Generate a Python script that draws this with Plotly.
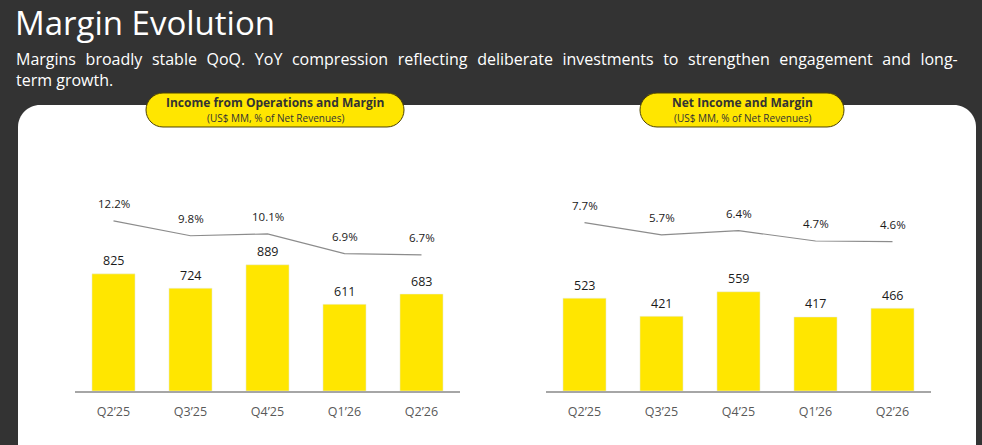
import plotly.graph_objects as go

W, H = 982, 445

quarters = ["Q2’25", "Q3’25", "Q4’25", "Q1’26", "Q2’26"]
op_income = [825, 724, 889, 611, 683]
op_margin = [12.2, 9.8, 10.1, 6.9, 6.7]
net_income = [523, 421, 559, 417, 466]
net_margin = [7.7, 5.7, 6.4, 4.7, 4.6]

YELLOW = "#FFE600"
BG = "#333333"
FONT = "Open Sans"

SUB_LINE1 = ("Margins broadly stable QoQ. YoY compression reflecting deliberate investments "
             "to strengthen engagement and long-")
SUB_LINE2 = "term growth."


def px(x, y):
    # pixel position -> paper fraction (margins are zero)
    return x / W, 1 - y / H


def rounded_rect(x0, y0, x1, y1, r):
    k = 0.5523 * r
    pts = [
        ("M", [(x0 + r, y0)]),
        ("L", [(x1 - r, y0)]),
        ("C", [(x1 - r + k, y0), (x1, y0 + r - k), (x1, y0 + r)]),
        ("L", [(x1, y1 - r)]),
        ("C", [(x1, y1 - r + k), (x1 - r + k, y1), (x1 - r, y1)]),
        ("L", [(x0 + r, y1)]),
        ("C", [(x0 + r - k, y1), (x0, y1 - r + k), (x0, y1 - r)]),
        ("L", [(x0, y0 + r)]),
        ("C", [(x0, y0 + r - k), (x0 + r - k, y0), (x0 + r, y0)]),
    ]
    path = ""
    for cmd, coords in pts:
        path += cmd + " " + " ".join("%.5f,%.5f" % px(cx, cy) for cx, cy in coords) + " "
    return path + "Z"


fig = go.Figure()

# left chart: income from operations
fig.add_trace(go.Bar(x=quarters, y=op_income, marker_color=YELLOW, xaxis="x", yaxis="y",
                     hoverinfo="x+y"))
fig.add_trace(go.Scatter(x=quarters, y=op_margin, mode="lines", line=dict(color="#8c8c8c", width=1.2),
                         xaxis="x", yaxis="y3"))
# right chart: net income
fig.add_trace(go.Bar(x=quarters, y=net_income, marker_color=YELLOW, xaxis="x2", yaxis="y2",
                     hoverinfo="x+y"))
fig.add_trace(go.Scatter(x=quarters, y=net_margin, mode="lines", line=dict(color="#8c8c8c", width=1.2),
                         xaxis="x2", yaxis="y4"))

annotations = []
for xref, yref, yref2, vals, margins in [("x", "y", "y3", op_income, op_margin),
                                          ("x2", "y2", "y4", net_income, net_margin)]:
    for q, v, m in zip(quarters, vals, margins):
        annotations.append(dict(x=q, y=v, xref=xref, yref=yref, text=str(v), showarrow=False,
                                yshift=13, font=dict(size=12.5, color="#1a1a1a")))
        annotations.append(dict(x=q, y=m, xref=xref, yref=yref2, text="%.1f%%" % m, showarrow=False,
                                yshift=17.5, font=dict(size=11.5, color="#1a1a1a")))

# header texts
annotations.append(dict(x=13 / W, y=px(0, 23)[1], xref="paper", yref="paper", xanchor="left",
                        yanchor="middle", showarrow=False, text="Margin Evolution",
                        font=dict(size=33, color="white")))
# the original paragraph is justified: widen the word gaps of the first line
justified = SUB_LINE1.replace(" ", "\u2002\u200a")
annotations.append(dict(x=14 / W, y=px(0, 70)[1], xref="paper", yref="paper", xanchor="left",
                        yanchor="middle", showarrow=False, align="left",
                        text=justified + "<br>" + SUB_LINE2,
                        font=dict(size=16, color="white")))

# pill titles
pills = [(146, 404, "Income from Operations and Margin"), (640, 844, "Net Income and Margin")]
shapes = [dict(type="path", path=rounded_rect(18, 105, 976, 470, 22), xref="paper", yref="paper",
               fillcolor="white", line=dict(width=0), layer="below")]
for x0, x1, label in pills:
    shapes.append(dict(type="path", path=rounded_rect(x0, 93, x1, 127, 17), xref="paper", yref="paper",
                       fillcolor=YELLOW, line=dict(color="#4d4300", width=1), layer="below"))
    cx = (x0 + x1) / 2 / W
    annotations.append(dict(x=cx, y=px(0, 102.5)[1], xref="paper", yref="paper", showarrow=False,
                            xanchor="center", yanchor="middle",
                            text="<b>" + label + "</b>", font=dict(size=12, color="#333333")))
    annotations.append(dict(x=cx, y=px(0, 118)[1], xref="paper", yref="paper", showarrow=False,
                            xanchor="center", yanchor="middle",
                            text="(US$ MM, % of Net Revenues)", font=dict(size=10, color="#333333")))

ydom = [px(0, 391)[1], px(0, 130)[1]]
xaxis_style = dict(showline=True, linecolor="#a6a6a6", linewidth=1.5, showgrid=False, zeroline=False,
                   ticks="", tickfont=dict(size=12.5, color="#595959"), ticklabelstandoff=8, fixedrange=True)
hidden = dict(visible=False, showgrid=False, zeroline=False, fixedrange=True)

fig.update_layout(
    width=W, height=H,
    margin=dict(l=0, r=0, t=0, b=0),
    paper_bgcolor=BG, plot_bgcolor="rgba(0,0,0,0)",
    font=dict(family=FONT, color="#1a1a1a"),
    showlegend=False,
    bargap=0.44,
    xaxis=dict(domain=[75 / W, 460 / W], anchor="y", **xaxis_style),
    xaxis2=dict(domain=[546 / W, 931 / W], anchor="y2", **xaxis_style),
    yaxis=dict(domain=ydom, range=[0, 1838], anchor="x", **hidden),
    yaxis2=dict(domain=ydom, range=[0, 1470], anchor="x2", **hidden),
    yaxis3=dict(overlaying="y", range=[-15.3, 26.9], anchor="x", **hidden),
    yaxis4=dict(overlaying="y2", range=[-19.76, 22.8], anchor="x2", **hidden),
    shapes=shapes,
    annotations=annotations,
)

# drop the default page margin so the figure sits at the window's top-left corner
fig.write_html("out.html", config={"displayModeBar": False},
               post_script="document.body.style.margin='0px';")
